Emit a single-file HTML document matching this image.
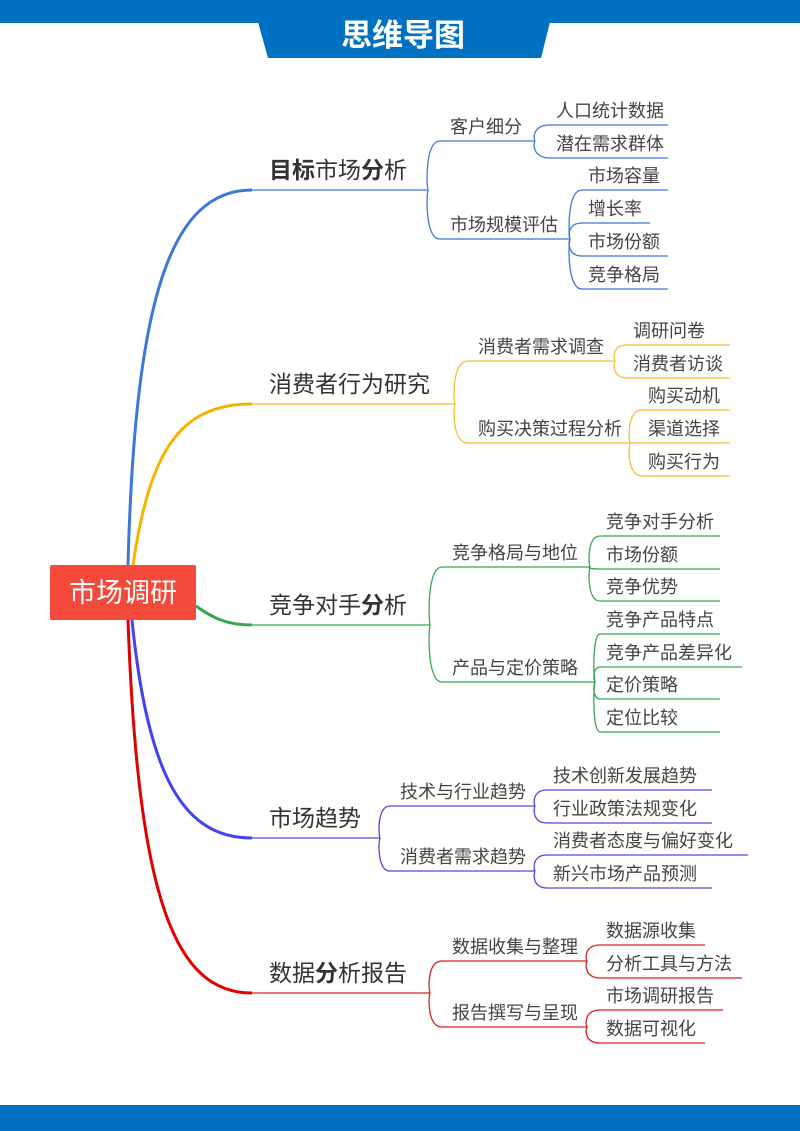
<!DOCTYPE html>
<html><head><meta charset="utf-8">
<style>
html,body{margin:0;padding:0;background:#fff;}
body{width:800px;height:1131px;position:relative;overflow:hidden;font-family:"Liberation Sans","Noto Sans CJK SC",sans-serif;}
svg{position:absolute;left:0;top:0;}
</style></head><body>
<svg id="s" width="800" height="1131" xmlns="http://www.w3.org/2000/svg" font-family="Liberation Sans, Noto Sans CJK SC, sans-serif">
<rect x="0" y="0" width="800" height="23" fill="#0070c0"/>
<polygon points="258,22 550,22 541,58 268,58" fill="#0070c0"/>
<text x="403" y="46" text-anchor="middle" font-size="31" font-weight="bold" fill="#fff">思维导图</text>
<rect x="0" y="1105" width="800" height="26" fill="#0070c0"/>
<path d="M128,565 C135,300 170,190 252,190" fill="none" stroke="#3c78d8" stroke-width="3"/>
<path d="M133,565 C150,450 180,404 252,404" fill="none" stroke="#f4b400" stroke-width="3"/>
<path d="M196,606 C215,620 230,625 252,625" fill="none" stroke="#34a853" stroke-width="3"/>
<path d="M132,620 C148,780 185,838 252,838" fill="none" stroke="#4444ee" stroke-width="3"/>
<path d="M128,620 C138,900 175,993 252,993" fill="none" stroke="#e00000" stroke-width="3"/>
<rect x="50" y="565" width="146" height="55" rx="2" fill="#f44a3c"/>
<text x="123" y="602" text-anchor="middle" font-size="27" fill="#fff">市场调研</text>
<g id="g"></g>
</svg>
<script>
var g=document.getElementById('g'),h='';
function line(x1,y,x2,c){h+='<line x1="'+x1+'" y1="'+y+'" x2="'+x2+'" y2="'+y+'" stroke="'+c+'" stroke-width="1.3"/>';}
function br(x,y,x2,y2,c){var d=x2-x;h+='<path d="M'+x+','+y+' C'+(x-2)+','+(y+(y2-y)*0.2)+' '+(x-2)+','+y2+' '+x2+','+y2+'" fill="none" stroke="'+c+'" stroke-width="1.3"/>';}
function txt(x,y,t,s,col){h+='<text x="'+x+'" y="'+y+'" font-size="'+s+'" fill="'+(col||'#444')+'">'+t+'</text>';}
var B=[
 {c:'#3c78d8',y:190,x2:428,lab:'<tspan font-weight="bold">目标</tspan>市场<tspan font-weight="bold">分</tspan>析',subs:[
  {t:'客户细分',y:141,x1:440,x2:535,lx:550,lx2:668,leaves:[['人口统计数据',125],['潜在需求群体',158]]},
  {t:'市场规模评估',y:239,x1:440,x2:570,lx:582,lx2:668,leaves:[['市场容量',190],['增长率',223,650],['市场份额',256],['竞争格局',289]]}]},
 {c:'#f1c232',y:404,x2:455,lab:'消费者行为研究',subs:[
  {t:'消费者需求调查',y:361,x1:468,x2:615,lx:627,lx2:730,leaves:[['调研问卷',345],['消费者访谈',378]]},
  {t:'购买决策过程分析',y:443,x1:468,x2:630,lx:642,lx2:730,leaves:[['购买动机',410],['渠道选择',443],['购买行为',476]]}]},
 {c:'#34a853',y:625,x2:430,lab:'竞争对手<tspan font-weight="bold">分</tspan>析',subs:[
  {t:'竞争格局与地位',y:567,x1:442,x2:590,lx:600,lx2:720,leaves:[['竞争对手分析',536],['市场份额',569],['竞争优势',601]]},
  {t:'产品与定价策略',y:682,x1:442,x2:595,lx:600,lx2:720,leaves:[['竞争产品特点',634],['竞争产品差异化',667,742],['定价策略',699],['定位比较',732]]}]},
 {c:'#4a4ae0',y:838,x2:380,lab:'市场趋势',subs:[
  {t:'技术与行业趋势',y:806,x1:390,x2:535,lx:547,lx2:712,leaves:[['技术创新发展趋势',790],['行业政策法规变化',823]]},
  {t:'消费者需求趋势',y:871,x1:390,x2:535,lx:547,lx2:748,leaves:[['消费者态度与偏好变化',855],['新兴市场产品预测',888,712]]}]},
 {c:'#d62020',y:993,x2:430,lab:'数据<tspan font-weight="bold">分</tspan>析报告',subs:[
  {t:'数据收集与整理',y:961,x1:442,x2:587,lx:600,lx2:705,leaves:[['数据源收集',945],['分析工具与方法',978,742]]},
  {t:'报告撰写与呈现',y:1027,x1:442,x2:587,lx:600,lx2:705,leaves:[['市场调研报告',1010,723],['数据可视化',1043]]}]}
];
B.forEach(function(b){
 line(252,b.y,b.x2,b.c);
 txt(269,b.y-12,b.lab,23,'#333');
 b.subs.forEach(function(s){
  br(b.x2,b.y,s.x1,s.y,b.c);
  line(s.x1,s.y,s.x2,b.c);
  txt(s.x1+10,s.y-8,s.t,18);
  s.leaves.forEach(function(l){
   br(s.x2,s.y,s.lx,l[1],b.c);
   line(s.lx,l[1],l[2]||s.lx2,b.c);
   txt(s.lx+6,l[1]-8,l[0],18);
  });
 });
});
g.innerHTML=h;
</script>
</body></html>
